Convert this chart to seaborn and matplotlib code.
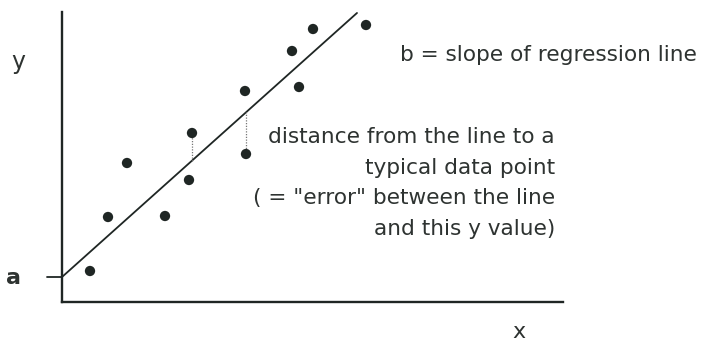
import matplotlib
matplotlib.use("Agg")
import matplotlib.pyplot as plt
import numpy as np
import pandas as pd
import seaborn as sns

# Observations (x, y) scattered about the fitted line
x_vals = [2.8, 4.6, 6.5, 10.3, 12.7, 13.0, 18.3, 18.4, 23.0, 23.7, 25.1, 30.4]
y_vals = [3.1, 8.5, 13.9, 8.6, 12.2, 16.9, 21.1, 14.8, 25.1, 21.5, 27.3, 27.7]

# Regression line: intercept a and slope b
intercept_a = 2.5
slope_b = 0.895
line_x = [0.0, 29.5]

# Points whose residuals are marked with a dotted segment
residual_idx = [5, 7]

sns.set_theme(style="white")
plt.rcParams["font.family"] = ["DejaVu Sans"]

ink = "#1f2624"
text_col = "#2e3331"

fig = plt.figure(figsize=(7.01, 3.45), dpi=100)
W, H = 701, 345
ax = fig.add_axes([62 / W, (H - 302) / H, (563 - 62) / W, (302 - 12) / H])

df = pd.DataFrame({"x": x_vals, "y": y_vals})
line_df = pd.DataFrame({"x": line_x,
                        "y": [intercept_a + slope_b * v for v in line_x]})

sns.lineplot(data=line_df, x="x", y="y", ax=ax, color=ink, linewidth=1.3)
sns.scatterplot(data=df, x="x", y="y", ax=ax, color=ink, s=55,
                edgecolor="none", zorder=3)

for i in residual_idx:
    xi, yi = x_vals[i], y_vals[i]
    yl = intercept_a + slope_b * xi
    ax.vlines(xi, min(yi, yl), max(yi, yl), colors="#777777",
              linestyles=(0, (1, 1.2)), linewidth=0.9)

ax.set_xlim(0, 50.1)
ax.set_ylim(0, 29.0)
ax.set_xticks([])
ax.set_yticks([])
ax.set_xlabel("")
ax.set_ylabel("")
for side in ("top", "right"):
    ax.spines[side].set_visible(False)
for side in ("left", "bottom"):
    ax.spines[side].set_color(ink)
    ax.spines[side].set_linewidth(1.7)

# Tick mark for the intercept
ax.plot([-1.5, 0], [intercept_a, intercept_a], color=ink, lw=1.3,
        clip_on=False)

fs = 15.6
fig.text(18 / W, 1 - 62 / H, "y", fontsize=17, color=text_col,
         ha="center", va="center")
fig.text(13 / W, 1 - 278 / H, "a", fontsize=16, color=text_col,
         ha="center", va="center", fontweight="bold")
fig.text(519 / W, 1 - 332 / H, "x", fontsize=16, color=text_col,
         ha="center", va="center")

fig.text(697 / W, 1 - 55 / H, "b = slope of regression line", fontsize=fs,
         color=text_col, ha="right", va="center")
fig.text(555 / W, 1 - 183 / H,
         "distance from the line to a\ntypical data point\n"
         "( = \"error\" between the line\nand this y value)",
         fontsize=fs, color=text_col, ha="right", va="center",
         multialignment="right", linespacing=1.66)

fig.savefig("out.png", dpi=100, facecolor="white")
